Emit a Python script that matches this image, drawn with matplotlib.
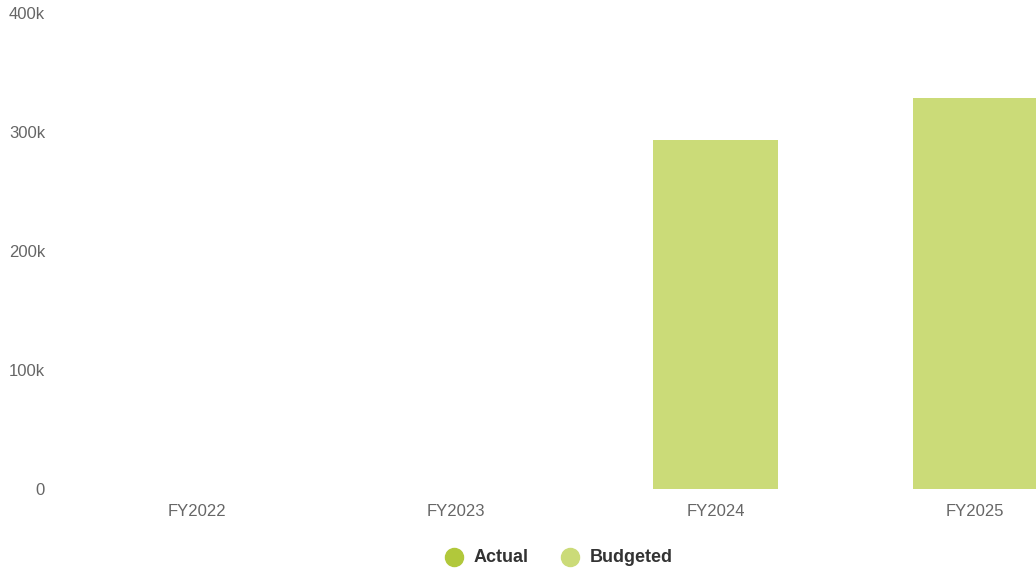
import matplotlib.pyplot as plt
from matplotlib.lines import Line2D
from matplotlib.ticker import FuncFormatter

plt.rcParams['font.family'] = ['Liberation Sans', 'DejaVu Sans']

# data
years = ['FY2022', 'FY2023', 'FY2024', 'FY2025']
actual = [0, 0, 0, 0]
budgeted = [0, 0, 293000, 328500]

actual_color = '#b1c83b'
budget_color = '#cbdb78'

fig = plt.figure(figsize=(10.36, 5.71), dpi=100)
# axes runs a bit past the right edge, like the original which is cut off
ax = fig.add_axes([67.25 / 1036, 82 / 571, 1037.5 / 1036, 476 / 571])

x = range(len(years))
ax.bar(x, budgeted, width=0.482, color=budget_color, zorder=2)

ax.set_xlim(-0.5, 3.5)
ax.set_ylim(0, 400000)
ax.set_xticks(list(x))
ax.set_xticklabels(years)
ax.set_yticks([0, 100000, 200000, 300000, 400000])
ax.yaxis.set_major_formatter(FuncFormatter(lambda v, p: '0' if v == 0 else f'{int(v/1000)}k'))
ax.tick_params(axis='both', length=0, labelsize=12, colors='#666666')
ax.tick_params(axis='y', pad=16)
ax.tick_params(axis='x', pad=11)
for s in ax.spines.values():
    s.set_visible(False)

# legend drawn by hand
legend_y = 1 - 557 / 571
for cx, tx, label, col in [(454, 474, 'Actual', actual_color), (570, 590, 'Budgeted', budget_color)]:
    fig.add_artist(Line2D([cx / 1036], [legend_y], marker='o', markersize=13,
                          color=col, linestyle='none', transform=fig.transFigure))
    fig.text(tx / 1036, legend_y, label, fontsize=13, fontweight='bold',
             color='#333333', va='center', ha='left')

fig.savefig('out.png', dpi=100)
